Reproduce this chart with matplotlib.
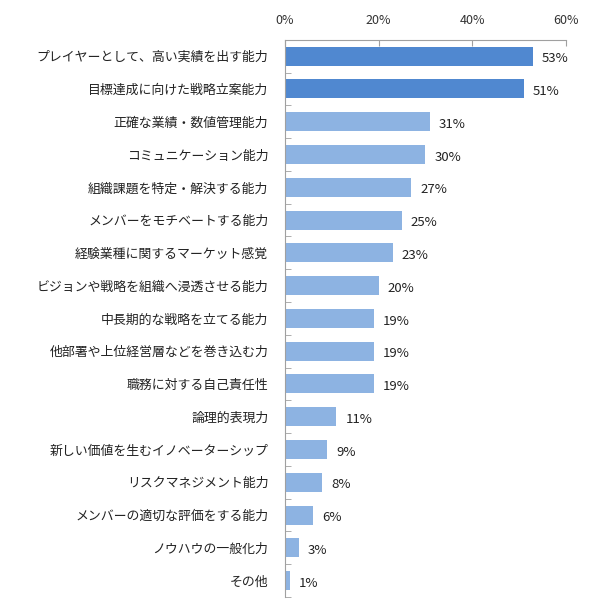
import matplotlib
matplotlib.use("Agg")
import matplotlib.pyplot as plt
from matplotlib.ticker import FixedLocator

plt.rcParams['font.family'] = ['Noto Sans CJK JP', 'DejaVu Sans']

categories = [
    "プレイヤーとして、高い実績を出す能力",
    "目標達成に向けた戦略立案能力",
    "正確な業績・数値管理能力",
    "コミュニケーション能力",
    "組織課題を特定・解決する能力",
    "メンバーをモチベートする能力",
    "経験業種に関するマーケット感覚",
    "ビジョンや戦略を組織へ浸透させる能力",
    "中長期的な戦略を立てる能力",
    "他部署や上位経営層などを巻き込む力",
    "職務に対する自己責任性",
    "論理的表現力",
    "新しい価値を生むイノベーターシップ",
    "リスクマネジメント能力",
    "メンバーの適切な評価をする能力",
    "ノウハウの一般化力",
    "その他",
]
values = [53, 51, 31, 30, 27, 25, 23, 20, 19, 19, 19, 11, 9, 8, 6, 3, 1]
highlight = [True, True] + [False] * 15

dark = "#5088D0"
light = "#8DB3E2"
colors = [dark if h else light for h in highlight]

fig = plt.figure(figsize=(5.9, 6.12), dpi=100)
ax = fig.add_axes([0.483, 0.0245, 0.476, 0.9105])

y = list(range(len(categories)))
ax.barh(y, values, height=0.58, color=colors, zorder=2)

for i, v in enumerate(values):
    ax.text(v + 1.9, i + 0.08, f"{v}%", va="center", ha="left", fontsize=9.5, color="#222222")

ax.set_xlim(0, 60)
ax.set_ylim(len(categories) - 0.5, -0.5)
ax.xaxis.tick_top()
ax.set_xticks([0, 20, 40, 60])
ax.set_xticklabels(["0%", "20%", "40%", "60%"], fontsize=9, color="#333333")
ax.tick_params(axis="x", direction="in", length=4, color="#a0a0a0", pad=9)

ax.set_yticks(y)
ax.set_yticklabels(categories, fontsize=9.3, color="#222222")
ax.tick_params(axis="y", length=0, pad=12)
ax.yaxis.set_minor_locator(FixedLocator([i + 0.5 for i in range(-1, len(categories))]))
ax.tick_params(axis="y", which="minor", direction="in", length=4, color="#a0a0a0")

for s in ["right", "bottom"]:
    ax.spines[s].set_visible(False)
for s in ["top", "left"]:
    ax.spines[s].set_color("#a0a0a0")
    ax.spines[s].set_linewidth(0.8)

fig.savefig("out.png", dpi=100)
